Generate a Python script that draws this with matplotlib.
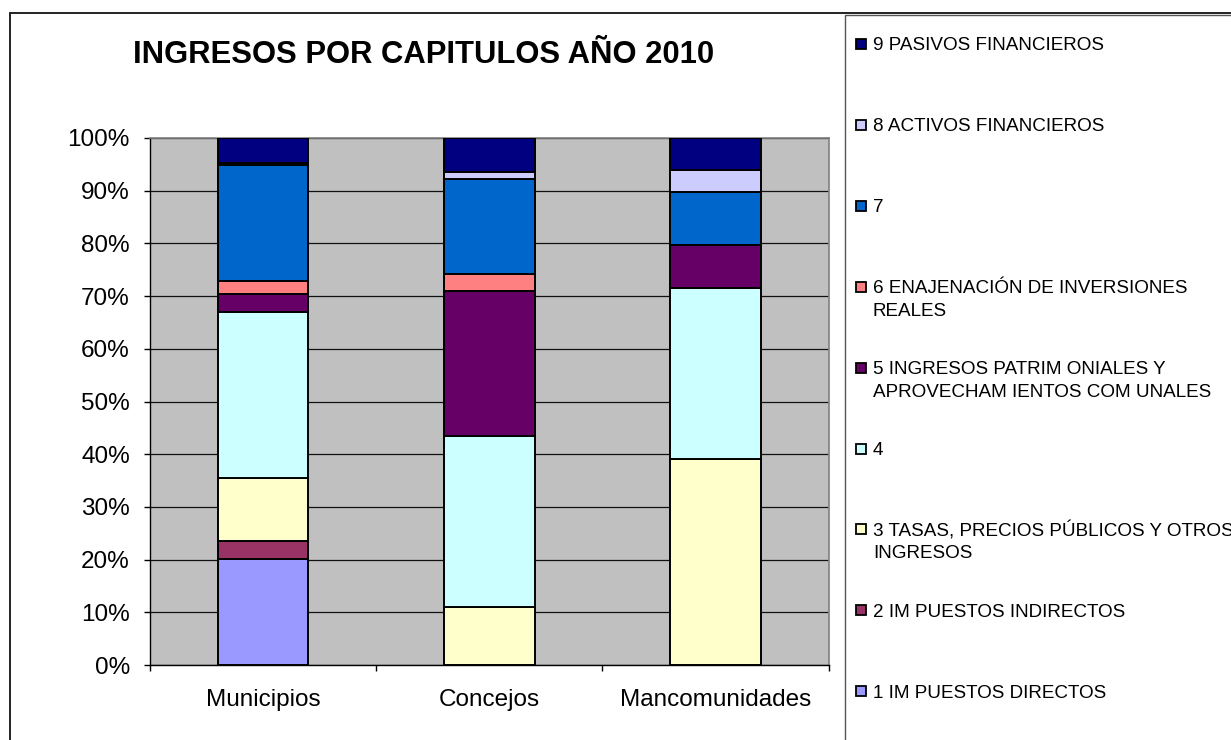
import matplotlib

matplotlib.use("Agg")

import matplotlib.pyplot as plt
import numpy as np
from matplotlib.patches import Rectangle
from matplotlib.ticker import FixedLocator, FuncFormatter

plt.rcParams["font.family"] = ["Liberation Sans", "DejaVu Sans"]

W, H = 1231, 740

title = "INGRESOS POR CAPITULOS AÑO 2010"
categories = ["Municipios", "Concejos", "Mancomunidades"]

# share of each chapter (%)
cap1 = [20.2, 0.0, 0.0]
cap2 = [3.4, 0.0, 0.0]
cap3 = [11.9, 11.0, 39.1]
cap4 = [31.4, 32.5, 32.4]
cap5 = [3.5, 27.5, 8.2]
cap6 = [2.5, 3.2, 0.0]
cap7 = [21.9, 18.1, 10.1]
cap8 = [0.5, 1.3, 4.1]
cap9 = [4.7, 6.4, 6.1]

series = [cap1, cap2, cap3, cap4, cap5, cap6, cap7, cap8, cap9]
labels = [
    "1 IM PUESTOS DIRECTOS",
    "2 IM PUESTOS INDIRECTOS",
    "3 TASAS, PRECIOS PÚBLICOS Y OTROS\nINGRESOS",
    "4",
    "5 INGRESOS PATRIM ONIALES Y\nAPROVECHAM IENTOS COM UNALES",
    "6 ENAJENACIÓN DE INVERSIONES\nREALES",
    "7",
    "8 ACTIVOS FINANCIEROS",
    "9 PASIVOS FINANCIEROS",
]
colors = ["#9999FF", "#993366", "#FFFFCC", "#CCFFFF", "#660066",
          "#FF8080", "#0066CC", "#CCCCFF", "#000080"]

fig = plt.figure(figsize=(W / 100, H / 100), dpi=100)
fig.patch.set_facecolor("white")

# outer chart frame and legend box (run off the right/bottom edge like the original)
fig.add_artist(Rectangle((10 / W, -0.05), 1.1, 1 - 13 / H + 0.05, transform=fig.transFigure,
                         fill=False, edgecolor="#222222", linewidth=1.4, clip_on=False))
fig.add_artist(Rectangle((845 / W, -0.05), 1.1, 1 - 15 / H + 0.05, transform=fig.transFigure,
                         fill=False, edgecolor="#555555", linewidth=1.0, clip_on=False))

left, right, top, bottom = 150, 828.7, 138, 665
ax = fig.add_axes([left / W, 1 - bottom / H, (right - left) / W, (bottom - top) / H])
ax.set_facecolor("#C0C0C0")

x = np.arange(len(categories))
totals = np.sum(series, axis=0)
base = np.zeros(len(categories))
for vals, col in zip(series, colors):
    pct = np.array(vals) / totals * 100
    ax.bar(x, pct, 0.40, bottom=base, color=col, edgecolor="black", linewidth=1.4, zorder=3)
    base += pct

ax.set_xlim(-0.5, 2.5)
ax.set_ylim(0, 100)
ax.set_yticks(np.arange(0, 101, 10))
ax.yaxis.set_major_formatter(FuncFormatter(lambda v, _: f"{v:.0f}%"))
ax.yaxis.grid(True, color="#111111", linewidth=0.9, zorder=0)
ax.set_axisbelow(True)

ax.xaxis.set_major_locator(FixedLocator([-0.5, 0.5, 1.5, 2.5]))
ax.xaxis.set_minor_locator(FixedLocator(x))
ax.set_xticklabels([])
ax.set_xticklabels(categories, minor=True)
ax.tick_params(axis="x", which="major", length=4, width=1, direction="out")
ax.tick_params(axis="x", which="minor", length=0, pad=17.5, labelsize=17.5)
ax.tick_params(axis="y", length=4, width=1, direction="out", pad=10.5, labelsize=17.5)

for side in ("top", "right"):
    ax.spines[side].set_color("#808080")
    ax.spines[side].set_linewidth(1.2)
for side in ("left", "bottom"):
    ax.spines[side].set_color("black")
    ax.spines[side].set_linewidth(1.0)

fig.text(423.5 / W, 1 - 55 / H, title, ha="center", va="center",
         fontsize=22.3, fontweight="bold")

# legend, top entry first, first lines evenly spaced like the original
for i, (lab, col) in enumerate(zip(labels[::-1], colors[::-1])):
    yc = 44 + i * 80.9
    fig.add_artist(Rectangle((856 / W, 1 - (yc + 5) / H), 10 / W, 10 / H,
                             transform=fig.transFigure, facecolor=col,
                             edgecolor="black", linewidth=1.3))
    for j, line in enumerate(lab.split("\n")):
        fig.text(873 / W, 1 - (yc + j * 22.5) / H, line, ha="left",
                 va="center_baseline", fontsize=13.6)

fig.savefig("out.png", dpi=100)
